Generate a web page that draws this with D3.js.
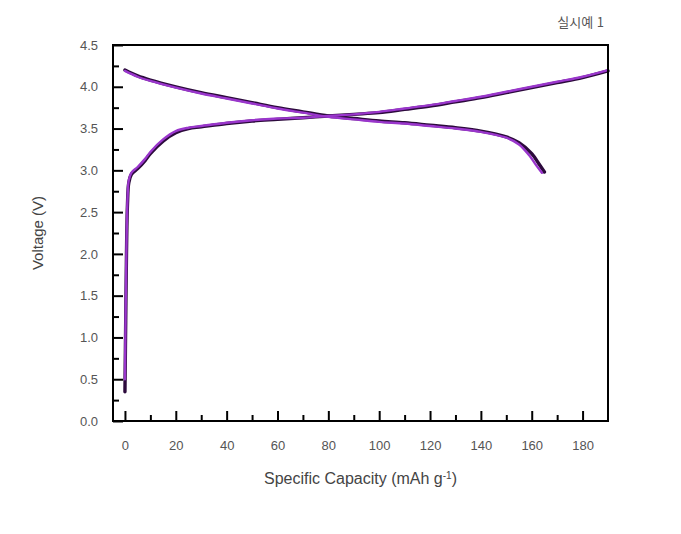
<!DOCTYPE html>
<html lang="ko">
<head>
<meta charset="UTF-8" />
<script src="https://d3js.org/d3.v7.min.js"></script>
<style>
    body { margin: 0; background: #fff; font-family: "Liberation Sans", Arial, sans-serif; }
    .tick text { fill: #555; font-size: 13px; font-family: "Liberation Sans", Arial, sans-serif; }
    .curve { fill: none; stroke-linejoin: round; stroke-linecap: round; }
</style>
</head>
<body>
<div id="chart"></div>
<script>
    // charge (upper-right rising) curve
    const chargeCap = [0, 0.3, 0.6, 1, 1.5, 2.5, 5, 8, 10, 15, 20, 25, 30, 40, 50, 60, 70, 80, 90, 100, 110, 120, 130, 140, 150, 160, 170, 180, 190];
    const chargeV1  = [0.35, 1.2, 2.0, 2.6, 2.85, 2.95, 3.02, 3.12, 3.2, 3.35, 3.45, 3.5, 3.52, 3.56, 3.59, 3.61, 3.63, 3.65, 3.67, 3.69, 3.73, 3.77, 3.82, 3.87, 3.93, 3.99, 4.05, 4.11, 4.19];
    const chargeV2  = [0.5, 1.4, 2.1, 2.65, 2.88, 2.97, 3.04, 3.14, 3.22, 3.37, 3.47, 3.51, 3.53, 3.57, 3.6, 3.62, 3.63, 3.65, 3.67, 3.7, 3.74, 3.78, 3.83, 3.88, 3.94, 4.0, 4.06, 4.12, 4.2];

    // discharge (falling) curve
    const dischCap1 = [0, 5, 10, 20, 30, 40, 50, 60, 70, 80, 90, 100, 110, 120, 130, 140, 150, 155, 160, 163, 165];
    const dischV1   = [4.2, 4.13, 4.08, 4.0, 3.93, 3.87, 3.81, 3.75, 3.7, 3.65, 3.62, 3.59, 3.57, 3.54, 3.51, 3.47, 3.4, 3.33, 3.2, 3.07, 2.98];
    const dischCap2 = [0, 5, 10, 20, 30, 40, 50, 60, 70, 80, 90, 100, 110, 120, 130, 140, 150, 155, 159, 162, 164];
    const dischV2   = [4.19, 4.12, 4.07, 3.99, 3.92, 3.86, 3.8, 3.74, 3.69, 3.64, 3.61, 3.58, 3.56, 3.53, 3.5, 3.46, 3.39, 3.31, 3.18, 3.05, 2.97];

    const xTicks = [0, 20, 40, 60, 80, 100, 120, 140, 160, 180];
    const yTicks = [0.0, 0.5, 1.0, 1.5, 2.0, 2.5, 3.0, 3.5, 4.0, 4.5];

    const margin = { top: 45, right: 73, bottom: 113, left: 113 },
          W = 681, H = 534,
          width = W - margin.left - margin.right,
          height = H - margin.top - margin.bottom;

    const root = d3.select("#chart").append("svg")
        .attr("width", W)
        .attr("height", H);

    const svg = root.append("g")
        .attr("transform", `translate(${margin.left},${margin.top})`);

    const x = d3.scaleLinear().domain([-4.7, 190]).range([0, width]);
    const y = d3.scaleLinear().domain([0, 4.5]).range([height, 0]);

    // minor ticks first, then major with labels (ticks point inward)
    svg.append("g")
        .attr("transform", `translate(0,${height})`)
        .call(d3.axisTop(x).tickValues(d3.range(10, 190, 20)).tickSize(6).tickFormat(""))
        .call(g => g.select(".domain").remove())
        .selectAll("line").attr("stroke-width", 2);

    svg.append("g")
        .call(d3.axisRight(y).tickValues(d3.range(0.25, 4.5, 0.5)).tickSize(6).tickFormat(""))
        .call(g => g.select(".domain").remove())
        .selectAll("line").attr("stroke-width", 2);

    const xAxis = svg.append("g")
        .attr("transform", `translate(0,${height})`)
        .call(d3.axisBottom(x).tickValues(xTicks).tickSize(-10).tickPadding(20));
    xAxis.select(".domain").remove();
    xAxis.selectAll("line").attr("stroke-width", 2);

    const yAxis = svg.append("g")
        .call(d3.axisLeft(y).tickValues(yTicks).tickSize(-10).tickPadding(15).tickFormat(d3.format(".1f")));
    yAxis.select(".domain").remove();
    yAxis.selectAll("line").attr("stroke-width", 2);

    const lineY = d3.line()
        .x(d => x(d[0]))
        .y(d => y(d[1]))
        .curve(d3.curveCatmullRom);

    const series = [
        { pts: d3.zip(chargeCap, chargeV1), color: "#2c0a3c", w: 3.4 },
        { pts: d3.zip(dischCap1, dischV1), color: "#2c0a3c", w: 3.4 },
        { pts: d3.zip(chargeCap, chargeV2), color: "#9a36cc", w: 2.4 },
        { pts: d3.zip(dischCap2, dischV2), color: "#9a36cc", w: 2.4 }
    ];

    series.forEach(s => {
        svg.append("path")
            .datum(s.pts)
            .attr("class", "curve")
            .attr("d", lineY)
            .attr("stroke", s.color)
            .attr("stroke-width", s.w);
    });

    // frame
    svg.append("rect")
        .attr("width", width)
        .attr("height", height)
        .attr("fill", "none")
        .attr("stroke", "#000")
        .attr("stroke-width", 2);

    svg.append("text")
        .attr("x", width / 2)
        .attr("y", height + 63)
        .attr("text-anchor", "middle")
        .attr("fill", "#444")
        .attr("font-size", 16)
        .html('Specific Capacity (mAh g<tspan baseline-shift="super" font-size="10">-1</tspan>)');

    svg.append("text")
        .attr("transform", `translate(-70,${height / 2}) rotate(-90)`)
        .attr("text-anchor", "middle")
        .attr("fill", "#444")
        .attr("font-size", 15)
        .text("Voltage (V)");

    root.append("text")
        .attr("x", 604)
        .attr("y", 27)
        .attr("text-anchor", "end")
        .attr("fill", "#555")
        .attr("font-size", 13)
        .attr("font-family", "'Noto Sans CJK KR', sans-serif")
        .text("실시예 1");
</script>
</body>
</html>
